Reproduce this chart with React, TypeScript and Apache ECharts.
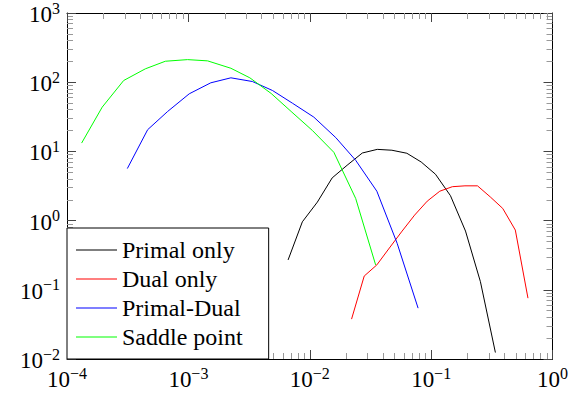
import React, { useEffect, useRef } from "react";
import * as echarts from "echarts";

const seriesNames = ["Primal only", "Dual only", "Primal-Dual", "Saddle point"];
const seriesColors = ["#000000", "#ff0000", "#0000ff", "#00ff00"];

const primalX = [6.63e-3, 8.69e-3, 1.155e-2, 1.53e-2, 2.03e-2, 2.71e-2, 3.6e-2, 4.75e-2, 6.31e-2, 8.28e-2, 0.1086, 0.1443, 0.192, 0.2547, 0.3385];
const primalY = [0.27, 0.96, 1.85, 4.14, 6.3, 9.48, 10.7, 10.4, 9.4, 7.03, 4.68, 2.29, 0.706, 0.131, 0.0124];

const dualX = [2.21e-2, 2.81e-2, 3.57e-2, 4.53e-2, 5.77e-2, 7.31e-2, 9.29e-2, 0.1179, 0.1496, 0.19, 0.241, 0.307, 0.389, 0.494, 0.628];
const dualY = [0.0377, 0.158, 0.229, 0.402, 0.706, 1.2, 1.91, 2.66, 3.09, 3.18, 3.18, 2.2, 1.5, 0.73, 0.0757];

const pdX = [3.14e-4, 4.62e-4, 6.75e-4, 1.017e-3, 1.53e-3, 2.24e-3, 3.37e-3, 4.93e-3, 7.19e-3, 1.08e-2, 1.64e-2, 2.39e-2, 3.57e-2, 5.25e-2, 7.81e-2];
const pdY = [5.65, 20.6, 37.8, 68, 98, 115.7, 102.3, 75.9, 49.8, 31.3, 15.8, 7.44, 2.66, 0.469, 0.0543];

const spX = [1.32e-4, 1.95e-4, 2.93e-4, 4.42e-4, 6.46e-4, 9.85e-4, 1.44e-3, 2.24e-3, 3.21e-3, 4.81e-3, 7.02e-3, 1.05e-2, 1.58e-2, 2.39e-2, 3.49e-2];
const spY = [13.2, 43.6, 105.8, 156, 200.8, 212, 203.4, 159, 115.7, 68.7, 37.8, 20.1, 9.7, 2.09, 0.229];

const xRange = [1e-4, 1];
const yRange = [1e-2, 1e3];

const FONT = "Liberation Serif";

function pow10Label(v: number): string {
  const e = Math.round(Math.log10(v));
  const s = e < 0 ? "\u2212" + String(-e) : String(e);
  return "{b|10}{s|" + s + "}";
}

const richLabel = {
  b: { fontSize: 23, fontFamily: FONT, color: "#000", lineHeight: 26, verticalAlign: "bottom" },
  s: { fontSize: 16, fontFamily: FONT, color: "#000", lineHeight: 16, verticalAlign: "top" },
};

function makeAxis(type: "x" | "y", primary: boolean, range: number[]) {
  const split = Math.round(Math.log10(range[1]) - Math.log10(range[0]));
  return {
    type: "log",
    logBase: 10,
    min: range[0],
    max: range[1],
    splitNumber: split,
    position: type === "x" ? (primary ? "bottom" : "top") : primary ? "left" : "right",
    axisLine: { show: true, onZero: false, lineStyle: { color: "#000", width: 1 } },
    axisTick: { show: true, inside: true, length: 9, lineStyle: { color: "#444", width: 1 } },
    minorTick: { show: true, splitNumber: 9, length: 6, lineStyle: { color: "#999", width: 1 } },
    splitLine: { show: false },
    minorSplitLine: { show: false },
    axisLabel: primary
      ? {
          show: true,
          margin: type === "x" ? 6 : 7,
          fontFamily: FONT,
          fontSize: 23,
          color: "#000",
          formatter: pow10Label,
          rich: richLabel,
          showMinLabel: true,
          showMaxLabel: true,
          hideOverlap: false,
        }
      : { show: false },
  };
}

function zip(xs: number[], ys: number[]) {
  return xs.map((x, i) => [x, ys[i]]);
}

export default function App() {
  const ref = useRef<HTMLDivElement>(null);
  useEffect(() => {
    document.body.style.margin = "0";
    const chart = echarts.init(ref.current!, null, { renderer: "svg" });
    const datasets = [zip(primalX, primalY), zip(dualX, dualY), zip(pdX, pdY), zip(spX, spY)];
    chart.setOption({
      animation: false,
      backgroundColor: "#fff",
      textStyle: { fontFamily: FONT },
      grid: { left: 67, right: 18, top: 12, bottom: 39, containLabel: false },
      xAxis: [makeAxis("x", true, xRange), makeAxis("x", false, xRange)],
      yAxis: [makeAxis("y", true, yRange), makeAxis("y", false, yRange)],
      legend: {
        orient: "vertical",
        left: 67,
        top: 228,
        padding: [10, 26, 10, 9],
        itemGap: 5,
        itemWidth: 41,
        itemHeight: 1,
        icon: "rect",
        backgroundColor: "#fff",
        borderColor: "#000",
        borderWidth: 1,
        borderRadius: 0,
        textStyle: { fontFamily: FONT, fontSize: 24, color: "#000" },
        data: seriesNames.map((n) => ({ name: n, icon: "rect" })),
      },
      series: datasets.map((d, i) => ({
        type: "line",
        name: seriesNames[i],
        xAxisIndex: 0,
        yAxisIndex: 0,
        data: d,
        showSymbol: false,
        symbol: "none",
        color: seriesColors[i],
        lineStyle: { color: seriesColors[i], width: 1 },
        itemStyle: { color: seriesColors[i] },
        z: 2,
      })),
    });
    return () => chart.dispose();
  }, []);
  return <div ref={ref} style={{ width: 571, height: 398, position: "absolute", left: 0, top: 0 }} />;
}
